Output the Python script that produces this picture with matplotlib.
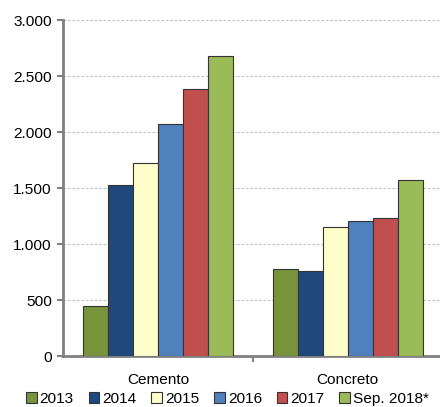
import matplotlib
matplotlib.use("Agg")
import matplotlib.pyplot as plt
import numpy as np
from matplotlib.patches import Patch

categories = ["Cemento", "Concreto"]
series = ["2013", "2014", "2015", "2016", "2017", "Sep. 2018*"]
values = {
    "2013": [450, 777],
    "2014": [1527, 759],
    "2015": [1723, 1149],
    "2016": [2071, 1205],
    "2017": [2384, 1229],
    "Sep. 2018*": [2679, 1571],
}
colors = ["#77933C", "#1F497D", "#FFFFCC", "#4F81BD", "#C0504D", "#9BBB59"]
yticks = [0, 500, 1000, 1500, 2000, 2500, 3000]
ytick_labels = ["0", "500", "1.000", "1.500", "2.000", "2.500", "3.000"]

plt.rcParams['font.family'] = ['Liberation Sans', 'DejaVu Sans']
fs = 11.1
fig = plt.figure(figsize=(4.40, 4.07), dpi=100)
ax = fig.add_axes([63/440, 51/407, 1 - 63/440 + 0.006, 336/407])

bw = 0.1316
x = np.arange(len(categories))
for i, (s, c) in enumerate(zip(series, colors)):
    off = (i - 2.5) * bw
    ax.bar(x + off, values[s], width=bw, color=c, edgecolor="#333333", linewidth=0.8, zorder=3)

ax.set_xlim(-0.5, 1.5)
ax.set_ylim(0, 3000)
ax.set_yticks(yticks)
ax.set_yticklabels(ytick_labels, fontsize=fs)
ax.yaxis.grid(True, linestyle=(0, (2.5, 1.5)), color="#C4C4C4", linewidth=0.8, zorder=0)
ax.set_xticks([0.5])
ax.set_xticklabels([""])
ax.tick_params(axis='x', length=4, width=1.5, color="#808080", direction='out')
ax.tick_params(axis='y', length=4, width=1.5, color="#808080", direction='out', pad=4)
for cx, name in zip(x, categories):
    ax.text(cx, -0.052, name, transform=ax.get_xaxis_transform(), ha='center', va='top', fontsize=fs)

for sp in ["top", "right"]:
    ax.spines[sp].set_visible(False)
for sp in ["left", "bottom"]:
    ax.spines[sp].set_color("#808080")
    ax.spines[sp].set_linewidth(2)

handles = [Patch(facecolor=c, edgecolor="#333333", linewidth=0.8) for c in colors]
fig.legend(handles, series, loc='lower center', bbox_to_anchor=(0.517, -0.02), ncol=6,
           frameon=False, fontsize=fs, handlelength=0.7, handleheight=0.7,
           handletextpad=0.2, columnspacing=0.95, borderaxespad=0.2)

fig.savefig("out.png", dpi=100)
